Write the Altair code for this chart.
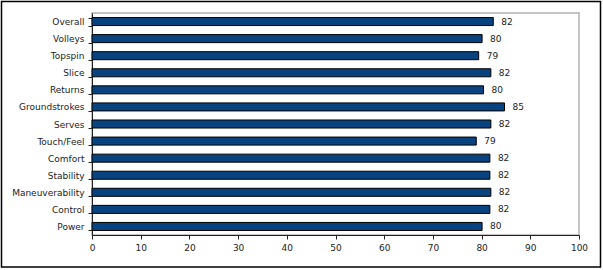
import altair as alt
import pandas as pd

categories = ["Overall", "Volleys", "Topspin", "Slice", "Returns", "Groundstrokes",
              "Serves", "Touch/Feel", "Comfort", "Stability", "Maneuverability",
              "Control", "Power"]
values = [82.4, 80.1, 79.4, 81.9, 80.4, 84.7, 81.9, 78.9, 81.7, 81.7, 81.9, 81.7, 80.1]
x_ticks = [0, 10, 20, 30, 40, 50, 60, 70, 80, 90, 100]

df = pd.DataFrame({"cat": categories, "val": values})
FONT = "DejaVu Sans"
FS = 9

y_enc = alt.Y("cat:N", sort=categories, title=None,
              scale=alt.Scale(paddingInner=0.53, paddingOuter=0.265),
              axis=alt.Axis(tickBand="extent", domainColor="#222222", tickColor="#222222",
                            tickSize=4, labelFont=FONT, labelFontSize=FS, labelColor="#222222",
                            labelPadding=4, domainWidth=1))
x_enc = alt.X("val:Q", title=None,
              scale=alt.Scale(domain=[0, 100], nice=False),
              axis=alt.Axis(values=x_ticks, grid=False, domainColor="#222222", tickColor="#222222",
                            tickSize=4, labelFont=FONT, labelFontSize=FS, labelColor="#222222",
                            labelPadding=4, format="d", labelFlush=False))

base = alt.Chart(df)
bars = base.mark_bar(color="#08437F", stroke="#000000", strokeWidth=1).encode(y=y_enc, x=x_enc)
labels = base.mark_text(align="left", baseline="middle", dx=8, font=FONT, fontSize=FS,
                        color="#222222").encode(y=alt.Y("cat:N", sort=categories),
                                                x="val:Q",
                                                text=alt.Text("val:Q", format=".0f"))

frame = alt.Chart(pd.DataFrame({"a": [0]})).mark_rect(
    fill=None, stroke="#000000", strokeWidth=1.5, clip=False
).encode(x=alt.value(-90.5), x2=alt.value(508.5), y=alt.value(-11.5), y2=alt.value(254))

chart = alt.layer(bars, labels, frame).properties(
    width=487, height=222,
    padding={"left": 92, "top": 13, "right": 24, "bottom": 35},
    autosize=alt.AutoSizeParams(type="none"),
    background="#ffffff",
).configure_view(stroke="#b3b3b3", strokeWidth=1.5)

chart.save("out.html", embed_options={"renderer": "svg", "actions": False})
